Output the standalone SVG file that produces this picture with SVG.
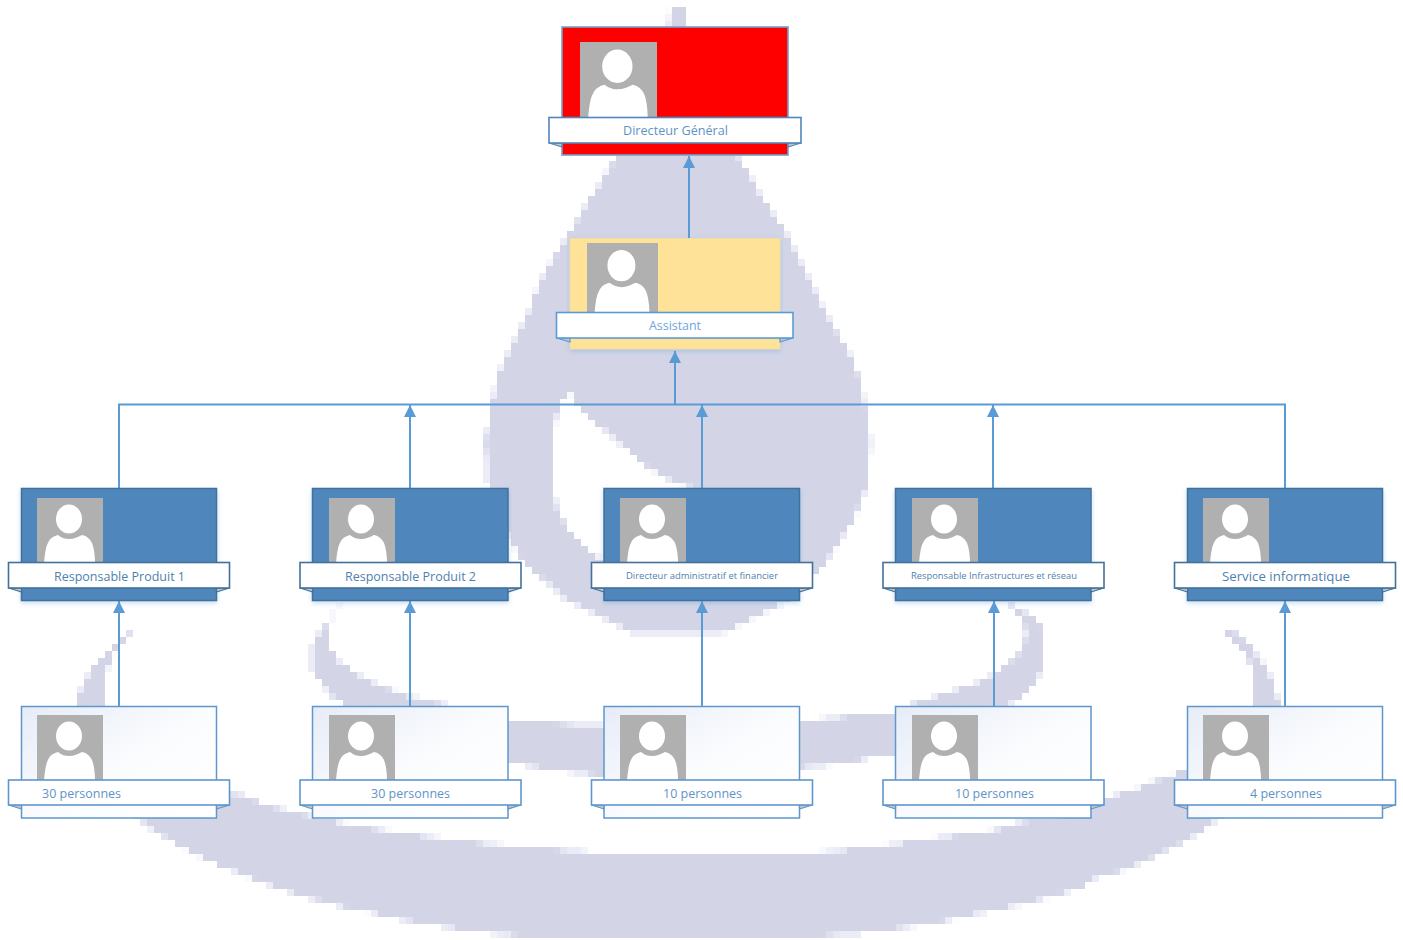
<svg xmlns="http://www.w3.org/2000/svg" xmlns:xlink="http://www.w3.org/1999/xlink" width="1403" height="940" viewBox="0 0 1403 940">
<style>
text{font-family:"Open Sans","Noto Sans","Liberation Sans",sans-serif;font-size:12.5px;text-anchor:middle}
.conn{fill:none;stroke:#5b9bd5;stroke-width:2}
.arr{marker-end:url(#tip)}
.pic{fill:#b0b0b0}
.person{fill:#fff}
.fold{fill:#c4c4c4;stroke-width:1.2}
.banner{fill:#fff;stroke-width:1.6}
.red .box{fill:#f00;stroke:#74a0cf;stroke-width:1.6}
.red .banner,.red .fold{stroke:#4f86bb}
.red text{fill:#5e93c8}
.yellow .box{fill:#fee298;stroke:#f0dca8;stroke-width:1}
.yellow .banner,.yellow .fold{stroke:#5b9bd5}
.yellow text{fill:#6ea6dc}
.blue .box{fill:#4f86bb;stroke:#41719c;stroke-width:1.5}
.blue .banner,.blue .fold{stroke:#41719c}
.blue text{fill:#4f7fae}
.white .box{fill:url(#pale);stroke:#5f97cc;stroke-width:1.5}
.white .banner,.white .fold{stroke:#5f97cc}
.white text{fill:#5f93c8}
.small text,text.small{font-size:9.2px}
.shade{filter:url(#shadow)}
.wm{fill:#d3d5e7;fill-rule:evenodd}
.wm2{fill:#ebecf6;stroke:#ebecf6;stroke-width:4;fill-rule:evenodd}
</style>
<defs>
<marker id="tip" markerUnits="userSpaceOnUse" markerWidth="13" markerHeight="13" refX="12.5" refY="6.5" orient="auto">
<path d="M0.5 0.5L12.5 6.5L0.5 12.5Z" fill="#5b9bd5"/>
</marker>
<linearGradient id="pale" x1="0" y1="0" x2="1" y2="0.9">
<stop offset="0" stop-color="#e6ecf7"/><stop offset="0.55" stop-color="#fbfcfe"/><stop offset="1" stop-color="#fff"/>
</linearGradient>
<filter id="shadow" x="-10%" y="-10%" width="120%" height="125%">
<feDropShadow dx="0" dy="2" stdDeviation="2.5" flood-color="#5b9bd5" flood-opacity="0.35"/>
</filter>
<filter id="pixelate" filterUnits="userSpaceOnUse" primitiveUnits="userSpaceOnUse" x="0" y="0" width="1403" height="940" color-interpolation-filters="sRGB">
<feFlood x="3" y="3" width="1" height="1" flood-color="#fff"/>
<feComposite x="0" y="0" width="7" height="7"/>
<feTile result="t"/>
<feComposite in="SourceGraphic" in2="t" operator="in"/>
<feMorphology operator="dilate" radius="3"/>
</filter>
<symbol id="person" viewBox="0 0 66 65" preserveAspectRatio="none">
<rect class="pic" width="66" height="65"/>
<ellipse class="person" cx="32" cy="21" rx="13" ry="14.5"/>
<path class="person" d="M7 65C8 55 9 48 11 45C13 40 17 38 21 37C25 40 28 41 32 41C37 41 41 39 45 37C50 38 53 41 55 45C57 50 58 58 58 65Z"/>
</symbol>
<g id="shapes">
<path d="M671 8L685 8L690 60L700 110L738 157L763 200L785 233L808 277L823 310L847 350L860 380L870 440L868 480L853 520L827 560L787 600L747 620L723 632L633 632L610 620L567 600L523 560L500 520L488 480L486 440L497 380L510 350L530 310L543 277L570 233L590 200L617 157L660 110L668 60Z
M570 390L577 403L590 417L617 440L643 463L670 480L700 490L700 570L603 562L590 553L570 533L557 510L550 480L550 440L557 413L563 397Z"/>
<path d="M131 632L124 641L112 655L105 672L104 707L77 707L84 682L98 662L116 646Z"/>
<path d="M1226 632L1234 632L1253 650L1267 670L1277 697L1281 707L1253 707L1253 670L1247 655Z"/>
<path d="M343 605L330 618L327 633L327 647L340 663L360 677L390 690L410 697L440 704L480 715L510 722L577 725L620 727L700 727L800 722L847 717L895 713L917 702L943 695L963 688L983 682L1003 668L1017 657L1025 643L1027 630L1020 615L1010 605L1030 615L1043 630L1043 650L1042 670L1033 683L1020 697L1005 707L960 730L895 753L880 755L843 763L800 767L700 775L603 775L557 770L510 762L440 750L400 720L347 705L333 697L323 683L313 670L313 643L323 630L333 615Z"/>
<path d="M140 790L243 795L263 805L290 812L347 825L390 832L433 838L493 845L580 852L623 856L770 856L833 852L893 845L940 838L990 832L1020 823L1047 820L1113 797L1137 790L1150 783L1170 777L1190 768L1260 780L1217 820L1207 827L1190 838L1173 847L1160 853L1147 860L1130 867L1113 873L1097 877L1080 887L1037 900L1007 907L977 913L947 920L903 927L857 933L787 937L750 941L573 941L497 933L450 927L407 920L377 913L347 907L320 900L293 893L253 878L220 865L193 852L167 838L147 825L130 812Z"/>
</g>
</defs>

<g id="watermark" filter="url(#pixelate)">
<use xlink:href="#shapes" class="wm2"/>
<use xlink:href="#shapes" class="wm"/>
</g>

<g id="connectors">
<path class="conn arr" d="M689 238L689 156"/>
<path class="conn arr" d="M675 405L675 351"/>
<path class="conn" d="M119 488V404.500H1285V488"/>
<path class="conn arr" d="M410 488V405"/>
<path class="conn arr" d="M702 488V405"/>
<path class="conn arr" d="M993 488V405"/>
<path class="conn arr" d="M119 706V601"/>
<path class="conn arr" d="M410 706V601"/>
<path class="conn arr" d="M702 706V601"/>
<path class="conn arr" d="M994 706V601"/>
<path class="conn arr" d="M1285 706V601"/>
</g>

<g id="node-dg" class="red">
<rect class="box" x="562" y="27" width="226" height="128"/>
<use xlink:href="#person" x="580" y="42" width="77" height="75"/>
<path class="fold" d="M549 143L562 147V143Z"/><path class="fold" d="M801 143L788 147V143Z"/>
<rect class="banner" x="549" y="117.500" width="252" height="25.500"/>
<text x="675.500" y="135" textLength="105" lengthAdjust="spacingAndGlyphs">Directeur Général</text>
</g>
<g id="node-assistant" class="yellow">
<rect class="box shade" x="570" y="238.500" width="210" height="110.500"/>
<use xlink:href="#person" x="587" y="243" width="71" height="70"/>
<path class="fold" d="M556.500 338L570 342V338Z"/><path class="fold" d="M793 338L780 342V338Z"/>
<rect class="banner" x="556.500" y="312.500" width="236.500" height="25.500"/>
<text x="675" y="330" textLength="52" lengthAdjust="spacingAndGlyphs">Assistant</text>
</g>

<g id="node-rp1" class="blue">
<rect class="box shade" x="21.500" y="488.500" width="195" height="112"/>
<use xlink:href="#person" x="37" y="498" width="66" height="65"/>
<path class="fold" d="M8.500 588L21.500 592V588Z"/><path class="fold" d="M229.500 588L216.500 592V588Z"/>
<rect class="banner" x="8.500" y="562.500" width="221" height="25.500"/>
<text x="119.500" y="581" textLength="131" lengthAdjust="spacingAndGlyphs">Responsable Produit 1</text>
</g>
<g id="node-rp2" class="blue">
<rect class="box shade" x="312.500" y="488.500" width="195.500" height="112"/>
<use xlink:href="#person" x="329" y="498" width="66" height="65"/>
<path class="fold" d="M300 588L312.500 592V588Z"/><path class="fold" d="M521 588L508 592V588Z"/>
<rect class="banner" x="300" y="562.500" width="221" height="25.500"/>
<text x="410.500" y="581" textLength="131" lengthAdjust="spacingAndGlyphs">Responsable Produit 2</text>
</g>
<g id="node-daf" class="blue">
<rect class="box shade" x="604" y="488.500" width="195.500" height="112"/>
<use xlink:href="#person" x="620" y="498" width="66" height="65"/>
<path class="fold" d="M591.500 588L604 592V588Z"/><path class="fold" d="M812.500 588L799.500 592V588Z"/>
<rect class="banner" x="591.500" y="562.500" width="221" height="25.500"/>
<text class="small" x="702" y="579" textLength="152" lengthAdjust="spacingAndGlyphs">Directeur administratif et financier</text>
</g>
<g id="node-rir" class="blue">
<rect class="box shade" x="895.500" y="488.500" width="195.500" height="112"/>
<use xlink:href="#person" x="912" y="498" width="66" height="65"/>
<path class="fold" d="M883 588L895.500 592V588Z"/><path class="fold" d="M1104 588L1091 592V588Z"/>
<rect class="banner" x="883" y="562.500" width="221" height="25.500"/>
<text class="small" x="994" y="579" textLength="166" lengthAdjust="spacingAndGlyphs">Responsable Infrastructures et réseau</text>
</g>
<g id="node-si" class="blue">
<rect class="box shade" x="1187.500" y="488.500" width="195" height="112"/>
<use xlink:href="#person" x="1203" y="498" width="66" height="65"/>
<path class="fold" d="M1174.500 588L1187.500 592V588Z"/><path class="fold" d="M1395.500 588L1382.500 592V588Z"/>
<rect class="banner" x="1174.500" y="562.500" width="221" height="25.500"/>
<text x="1286" y="581" textLength="128" lengthAdjust="spacingAndGlyphs">Service informatique</text>
</g>

<g id="node-t1" class="white">
<rect class="box" x="21.500" y="706.500" width="195" height="111.500"/>
<use xlink:href="#person" x="37" y="715" width="66" height="65"/>
<path class="fold" d="M8.500 805L21.500 809V805Z"/><path class="fold" d="M229.500 805L216.500 809V805Z"/>
<rect class="banner" x="8.500" y="780" width="221" height="25"/>
<text x="81.500" y="798" textLength="79" lengthAdjust="spacingAndGlyphs">30 personnes</text>
</g>
<g id="node-t2" class="white">
<rect class="box" x="312.500" y="706.500" width="195.500" height="111.500"/>
<use xlink:href="#person" x="329" y="715" width="66" height="65"/>
<path class="fold" d="M300 805L312.500 809V805Z"/><path class="fold" d="M521 805L508 809V805Z"/>
<rect class="banner" x="300" y="780" width="221" height="25"/>
<text x="410.500" y="798" textLength="79" lengthAdjust="spacingAndGlyphs">30 personnes</text>
</g>
<g id="node-t3" class="white">
<rect class="box" x="604" y="706.500" width="195.500" height="111.500"/>
<use xlink:href="#person" x="620" y="715" width="66" height="65"/>
<path class="fold" d="M591.500 805L604 809V805Z"/><path class="fold" d="M812.500 805L799.500 809V805Z"/>
<rect class="banner" x="591.500" y="780" width="221" height="25"/>
<text x="702.500" y="798" textLength="79" lengthAdjust="spacingAndGlyphs">10 personnes</text>
</g>
<g id="node-t4" class="white">
<rect class="box" x="895.500" y="706.500" width="195.500" height="111.500"/>
<use xlink:href="#person" x="912" y="715" width="66" height="65"/>
<path class="fold" d="M883 805L895.500 809V805Z"/><path class="fold" d="M1104 805L1091 809V805Z"/>
<rect class="banner" x="883" y="780" width="221" height="25"/>
<text x="994.500" y="798" textLength="79" lengthAdjust="spacingAndGlyphs">10 personnes</text>
</g>
<g id="node-t5" class="white">
<rect class="box" x="1187.500" y="706.500" width="195" height="111.500"/>
<use xlink:href="#person" x="1203" y="715" width="66" height="65"/>
<path class="fold" d="M1174.500 805L1187.500 809V805Z"/><path class="fold" d="M1395.500 805L1382.500 809V805Z"/>
<rect class="banner" x="1174.500" y="780" width="221" height="25"/>
<text x="1286" y="798" textLength="72" lengthAdjust="spacingAndGlyphs">4 personnes</text>
</g>
</svg>
